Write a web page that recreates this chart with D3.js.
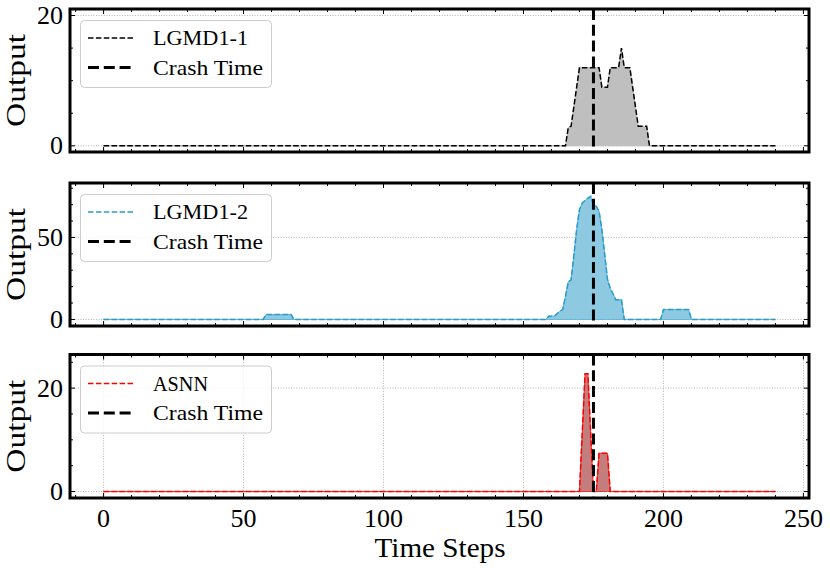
<!DOCTYPE html>
<html><head><meta charset="utf-8">
<script src="https://cdn.jsdelivr.net/npm/d3@7"></script>
<style>
html,body{margin:0;padding:0;background:#fff;}
svg{display:block;}
text{font-family:'Liberation Serif','DejaVu Serif',serif;fill:#000;}
</style></head>
<body>
<svg id="chart" width="830" height="568"></svg>
<script>
// ---- data ----
const crashTime = 175;
const xTicks = [0, 50, 100, 150, 200, 250];

const lgmd1Times  = [0, 165, 166, 167, 170, 177, 178, 180, 181, 184, 185, 186, 188, 191, 194, 195, 240];
const lgmd1Values = [0, 0,   2.8, 3,   12,  12,  9,   9,   12,  12,  15,  12,  12,  3,   3,   0,   0];

const lgmd2Times  = [0, 57, 58, 67, 68, 158, 159, 161, 163, 164, 165, 166, 167, 168, 169, 170, 171, 172, 173, 174, 175, 176, 177, 178, 179, 180, 181, 182, 183, 185, 186, 199, 200, 209, 210, 240];
const lgmd2Values = [0, 0,  3,  3,  0,  0,   2,   2,   5,   6,   14,  23,  24,  39,  55,  67,  71,  72.5, 74, 75,  70,  69,  66,  55,  40,  24.5, 19, 15.5, 12,  12,  0,   0,   6,   6,   0,   0];

const asnnTimes  = [0, 170, 172,  173,  175, 176, 177, 180, 181, 240];
const asnnValues = [0, 0,   22.8, 22.8, 0,   0,   7.4, 7.4, 0,   0];

const seriesNames = ["LGMD1-1", "LGMD1-2", "ASNN"];
const crashLabel = "Crash Time";
const yTickSets = [[0, 20], [0, 50], [0, 20]];
const yMinorSteps = [5, 10, 5];
const yDomains = [[-0.95, 21], [-4, 83.2], [-1.25, 26.5]];

// ---- styles / layout ----
const lineColors = ["#000000", "#2a9bc9", "#ff0000"];
const fillColors = ["#bfbfbf", "#8dcae2", "#c47d7d"];
const edgeColors = ["#bfbfbf", "#5fb4d8", "#ee3030"];
const panelBoxes = [{top: 9, bottom: 152}, {top: 183, bottom: 326}, {top: 354.5, bottom: 498}];
const left = 70, right = 809;
const legendTextWidths = [95, 95, 55];

const svg = d3.select("#chart");
const x = d3.scaleLinear().domain([-12, 252]).range([left, right]);

const allData = [
  d3.zip(lgmd1Times, lgmd1Values),
  d3.zip(lgmd2Times, lgmd2Values),
  d3.zip(asnnTimes, asnnValues)
];

const xMinor = d3.range(-10, 252, 10).filter(v => v % 50 !== 0);

panelBoxes.forEach((pb, i) => {
  const y = d3.scaleLinear().domain(yDomains[i]).range([pb.bottom, pb.top]);
  const g = svg.append("g");
  const clipId = "clip" + i;
  svg.append("clipPath").attr("id", clipId).append("rect")
    .attr("x", left).attr("y", pb.top).attr("width", right - left).attr("height", pb.bottom - pb.top);

  // grid
  const grid = g.append("g").attr("stroke", "#a0a0a0").attr("stroke-width", 0.8).attr("stroke-dasharray", "1,1.6");
  yTickSets[i].forEach(v => {
    grid.append("line").attr("x1", left).attr("x2", right).attr("y1", y(v)).attr("y2", y(v));
  });
  if (i === 2) {
    xTicks.forEach(v => {
      grid.append("line").attr("x1", x(v)).attr("x2", x(v)).attr("y1", pb.top).attr("y2", pb.bottom);
    });
  }

  const data = allData[i];
  const area = d3.area().x(d => x(d[0])).y0(y(0)).y1(d => y(d[1]));
  const line = d3.line().x(d => x(d[0])).y(d => y(d[1]));
  const plot = g.append("g").attr("clip-path", `url(#${clipId})`);
  plot.append("path").datum(data).attr("d", area).attr("fill", fillColors[i])
    .attr("stroke", edgeColors[i]).attr("stroke-width", 1);
  plot.append("path").datum(data).attr("d", line).attr("fill", "none")
    .attr("stroke", lineColors[i]).attr("stroke-width", 1.5).attr("stroke-dasharray", "5.5,2.4");
  plot.append("line").attr("x1", x(crashTime)).attr("x2", x(crashTime))
    .attr("y1", pb.top).attr("y2", pb.bottom)
    .attr("stroke", "#000").attr("stroke-width", 3).attr("stroke-dasharray", "11,4.8");

  // ticks (inward, all sides)
  const tk = g.append("g").attr("stroke", "#000").attr("stroke-width", 1);
  const yMinor = d3.range(Math.ceil(yDomains[i][0] / yMinorSteps[i]) * yMinorSteps[i], yDomains[i][1], yMinorSteps[i])
    .filter(v => !yTickSets[i].includes(v));
  yTickSets[i].forEach(v => {
    tk.append("line").attr("x1", left).attr("x2", left + 5).attr("y1", y(v)).attr("y2", y(v));
    tk.append("line").attr("x1", right).attr("x2", right - 5).attr("y1", y(v)).attr("y2", y(v));
  });
  yMinor.forEach(v => {
    tk.append("line").attr("x1", left).attr("x2", left + 3).attr("y1", y(v)).attr("y2", y(v));
    tk.append("line").attr("x1", right).attr("x2", right - 3).attr("y1", y(v)).attr("y2", y(v));
  });
  xTicks.forEach(v => {
    tk.append("line").attr("x1", x(v)).attr("x2", x(v)).attr("y1", pb.bottom).attr("y2", pb.bottom - 5);
    tk.append("line").attr("x1", x(v)).attr("x2", x(v)).attr("y1", pb.top).attr("y2", pb.top + 5);
  });
  xMinor.forEach(v => {
    tk.append("line").attr("x1", x(v)).attr("x2", x(v)).attr("y1", pb.bottom).attr("y2", pb.bottom - 3);
    tk.append("line").attr("x1", x(v)).attr("x2", x(v)).attr("y1", pb.top).attr("y2", pb.top + 3);
  });

  // y tick labels
  yTickSets[i].forEach(v => {
    g.append("text").attr("x", 63).attr("y", y(v) + 8.6).attr("text-anchor", "end")
      .attr("font-size", 26).text(v);
  });

  // y label
  const cy = (pb.top + pb.bottom) / 2;
  g.append("text").attr("transform", `translate(25,${cy}) rotate(-90)`)
    .attr("text-anchor", "middle").attr("font-size", 28)
    .attr("textLength", 93).attr("lengthAdjust", "spacingAndGlyphs").text("Output");

  // frame
  g.append("rect").attr("x", left).attr("y", pb.top).attr("width", right - left).attr("height", pb.bottom - pb.top)
    .attr("fill", "none").attr("stroke", "#000").attr("stroke-width", 3);

  // legend
  const lg = g.append("g");
  lg.append("rect").attr("x", 80.5).attr("y", pb.top + 11.5).attr("width", 191).attr("height", 67)
    .attr("rx", 4).attr("fill", "#fff").attr("fill-opacity", 0.8).attr("stroke", "#cccccc").attr("stroke-width", 1);
  const r1 = pb.top + 29, r2 = pb.top + 58.5;
  lg.append("line").attr("x1", 88).attr("x2", 133).attr("y1", r1).attr("y2", r1)
    .attr("stroke", lineColors[i]).attr("stroke-width", 1.5).attr("stroke-dasharray", "5.5,2.4");
  lg.append("line").attr("x1", 88).attr("x2", 133).attr("y1", r2).attr("y2", r2)
    .attr("stroke", "#000").attr("stroke-width", 3).attr("stroke-dasharray", "11,4.8");
  lg.append("text").attr("x", 153).attr("y", r1 + 7).attr("font-size", 21)
    .attr("textLength", legendTextWidths[i]).attr("lengthAdjust", "spacingAndGlyphs").text(seriesNames[i]);
  lg.append("text").attr("x", 153).attr("y", r2 + 7).attr("font-size", 21)
    .attr("textLength", 110).attr("lengthAdjust", "spacingAndGlyphs").text(crashLabel);
});

// x tick labels and x label
const last = panelBoxes[2];
xTicks.forEach(v => {
  svg.append("text").attr("x", x(v)).attr("y", last.bottom + 29).attr("text-anchor", "middle")
    .attr("font-size", 26).text(v);
});
svg.append("text").attr("x", 440).attr("y", 557).attr("text-anchor", "middle").attr("font-size", 28)
  .attr("textLength", 131).attr("lengthAdjust", "spacingAndGlyphs").text("Time Steps");
</script>
</body></html>
